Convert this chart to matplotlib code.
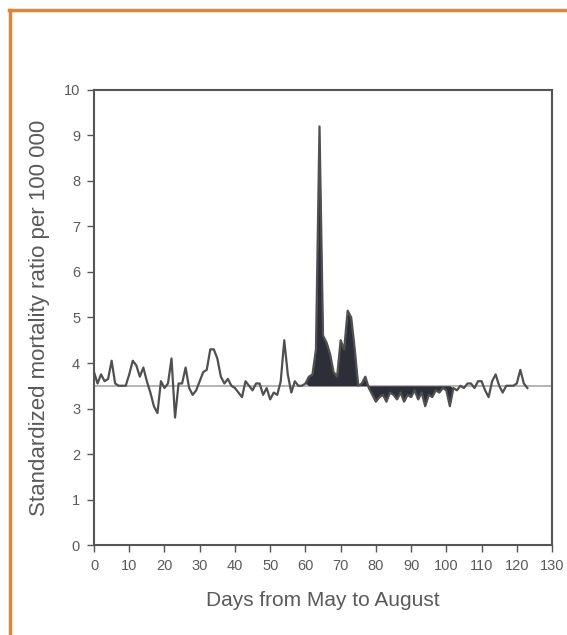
"""
Standardized mortality ratio by day, May to August, with excess shaded.
"""

import numpy as np
import matplotlib.pyplot as plt
from matplotlib.lines import Line2D

# Daily standardized mortality ratio per 100 000
days = np.arange(124)
ratio = [
    3.8, 3.55, 3.75, 3.6, 3.65, 4.05, 3.55, 3.5, 3.5, 3.5,
    3.75, 4.05, 3.95, 3.7, 3.9, 3.6, 3.35, 3.05, 2.9, 3.6,
    3.45, 3.55, 4.1, 2.8, 3.55, 3.55, 3.9, 3.45, 3.3, 3.4,
    3.6, 3.8, 3.85, 4.3, 4.3, 4.1, 3.7, 3.55, 3.65, 3.5,
    3.45, 3.35, 3.25, 3.6, 3.5, 3.4, 3.55, 3.55, 3.3, 3.45,
    3.2, 3.35, 3.3, 3.6, 4.5, 3.75, 3.35, 3.6, 3.5, 3.5,
    3.55, 3.7, 3.75, 4.3, 9.2, 4.6, 4.45, 4.2, 3.8, 3.7,
    4.5, 4.3, 5.15, 5.0, 4.3, 3.5, 3.55, 3.7, 3.45, 3.3,
    3.15, 3.25, 3.3, 3.15, 3.35, 3.3, 3.2, 3.35, 3.15, 3.3,
    3.25, 3.4, 3.2, 3.35, 3.05, 3.3, 3.25, 3.4, 3.35, 3.45,
    3.4, 3.05, 3.45, 3.4, 3.5, 3.45, 3.55, 3.55, 3.45, 3.6,
    3.6, 3.4, 3.25, 3.6, 3.75, 3.5, 3.35, 3.5, 3.5, 3.5,
    3.55, 3.85, 3.55, 3.45,
]
baseline = 3.5
shade_from, shade_to = 61, 101

x_ticks = list(range(0, 131, 10))
y_ticks = list(range(0, 11))

ratio = np.array(ratio)
text_col = "#5a5a5a"
plt.rcParams["font.family"] = ["Liberation Sans", "DejaVu Sans"]

fig = plt.figure(figsize=(5.67, 6.35), dpi=100)
ax = fig.add_axes([0.1658, 0.1417, 0.8078, 0.7166])

# Baseline
ax.axhline(baseline, color="#a8a8a8", linewidth=1.2, zorder=1)

# Shaded deviations from baseline during the event period
mask = (days >= shade_from) & (days <= shade_to)
ax.fill_between(days, ratio, baseline, where=mask, interpolate=True,
                color="#2c2e38", linewidth=0, zorder=2)

# Daily series
ax.plot(days, ratio, color="#505050", linewidth=1.6, zorder=3)

ax.set_xlim(0, 130)
ax.set_ylim(0, 10)
ax.set_xticks(x_ticks)
ax.set_yticks(y_ticks)
ax.tick_params(direction="out", length=5, width=1, colors="#555555",
               labelsize=10.5, labelcolor=text_col, pad=5)
for s in ax.spines.values():
    s.set_color("#555555")
    s.set_linewidth(1.5)

ax.set_xlabel("Days from May to August", fontsize=15, color=text_col, labelpad=13)
ax.set_ylabel("Standardized mortality ratio per 100 000", fontsize=16,
              color=text_col, labelpad=10)

# Orange frame from the page layout
orange = "#e8822c"
fig.add_artist(Line2D([0.016, 1.0], [0.984, 0.984], color=orange, linewidth=2.5,
                      transform=fig.transFigure))
fig.add_artist(Line2D([0.017, 0.017], [0.0, 0.984], color=orange, linewidth=2.5,
                      transform=fig.transFigure))

fig.savefig("out.png", dpi=100)
